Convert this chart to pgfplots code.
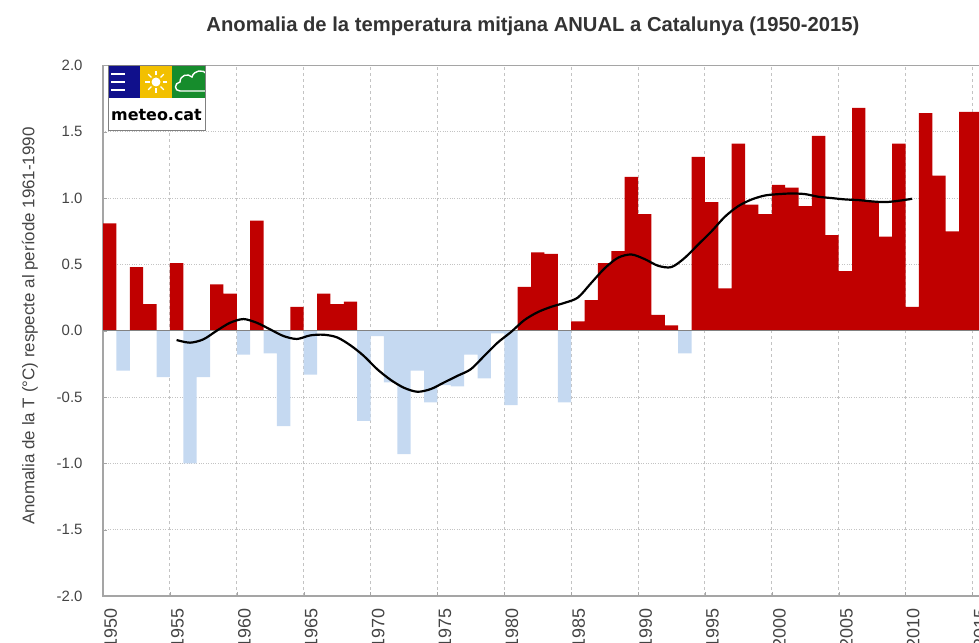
\documentclass[border=0pt]{standalone}
\usepackage{pgfplots}
\pgfplotsset{compat=1.18}
\usepackage{fontspec}
\setmainfont{Liberation Sans}
\newfontfamily\logofont{DejaVu Sans}
\definecolor{barred}{RGB}{192,0,0}
\definecolor{barblue}{RGB}{197,217,241}
\definecolor{txt}{RGB}{68,68,68}
\definecolor{ttl}{RGB}{51,51,51}
\definecolor{gridc}{RGB}{195,195,195}
\definecolor{axc}{RGB}{165,165,165}
\definecolor{zeroc}{RGB}{130,130,130}
\definecolor{logoblue}{RGB}{16,16,140}
\definecolor{logoyellow}{RGB}{242,192,0}
\definecolor{logogreen}{RGB}{22,140,44}
\begin{document}
\begin{tikzpicture}[x=1bp,y=1bp]
\begin{axis}[
  at={(103bp,47bp)}, anchor=south west,
  scale only axis, width=877.4bp, height=530.5bp,
  xmin=1949.5, xmax=2015.1, ymin=-2, ymax=2,
  axis line style={axc, line width=1.2bp},
  ytick={-2,-1.5,...,2},
  yticklabel style={font=\fontsize{15}{15}\selectfont, text=txt, xshift=-17bp,
    /pgf/number format/fixed, /pgf/number format/fixed zerofill,
    /pgf/number format/precision=1, /pgf/number format/assume math mode=true},
  xtick={1950,1955,...,2015},
  xticklabels={1950,1955,1960,1965,1970,1975,1980,1985,1990,1995,2000,2005,2010,2015},
  xticklabel style={rotate=90, anchor=east, font=\fontsize{18}{18}\selectfont, text=txt, xshift=-9bp, yshift=-1bp},
  minor xtick={1954.5,1959.5,...,2014.5},
  major x tick style={draw=none},
  minor x tick style={axc},
  ytick style={axc},
  major tick length=4bp, minor tick length=4bp,
  ytick pos=left, xtick pos=bottom,
  ymajorgrids, xminorgrids,
  major y grid style={dotted, gridc, line width=0.8bp},
  minor x grid style={dashed, gridc, line width=0.8bp},
]
\addplot[ybar, bar width=1, bar shift=0pt, fill=barred, draw=none] coordinates {
(1950,0.81) (1952,0.48) (1953,0.20) (1955,0.51) (1958,0.35) (1959,0.28)
(1961,0.83) (1964,0.18) (1966,0.28) (1967,0.20) (1968,0.22)
(1981,0.33) (1982,0.59) (1983,0.58) (1985,0.07) (1986,0.23) (1987,0.51)
(1988,0.60) (1989,1.16) (1990,0.88) (1991,0.12) (1992,0.04)
(1994,1.31) (1995,0.97) (1996,0.32) (1997,1.41) (1998,0.95) (1999,0.88)
(2000,1.10) (2001,1.08) (2002,0.94) (2003,1.47) (2004,0.72) (2005,0.45)
(2006,1.68) (2007,0.97) (2008,0.71) (2009,1.41) (2010,0.18) (2011,1.64)
(2012,1.17) (2013,0.75) (2014,1.65) (2015,1.65)
};
\addplot[ybar, bar width=1, bar shift=0pt, fill=barblue, draw=none] coordinates {
(1951,-0.30) (1954,-0.35) (1956,-1.00) (1957,-0.35) (1960,-0.18)
(1962,-0.17) (1963,-0.72) (1965,-0.33) (1969,-0.68) (1970,-0.04)
(1971,-0.39) (1972,-0.93) (1973,-0.30) (1974,-0.54) (1975,-0.41)
(1976,-0.42) (1977,-0.18) (1978,-0.36) (1979,-0.02) (1980,-0.56)
(1984,-0.54) (1993,-0.17)
};
\addplot[forget plot, zeroc, line width=1.2bp] coordinates {(1949.5,0) (2016,0)};
\addplot[black, line width=2.2bp, smooth] coordinates {
(1955,-0.07) (1956,-0.09) (1957,-0.065) (1958,0.00) (1959,0.06) (1960,0.088)
(1961,0.06) (1962,0.01) (1963,-0.04) (1964,-0.062) (1965,-0.035) (1966,-0.03)
(1967,-0.05) (1968,-0.11) (1969,-0.19) (1970,-0.29) (1971,-0.37) (1972,-0.43)
(1973,-0.46) (1974,-0.44) (1975,-0.39) (1976,-0.34) (1977,-0.29) (1978,-0.19)
(1979,-0.09) (1980,-0.01) (1981,0.08) (1982,0.14) (1983,0.18) (1984,0.21)
(1985,0.25) (1986,0.36) (1987,0.47) (1988,0.55) (1989,0.575) (1990,0.54)
(1991,0.49) (1992,0.48) (1993,0.55) (1994,0.65) (1995,0.75) (1996,0.86)
(1997,0.94) (1998,0.99) (1999,1.02) (2000,1.03) (2001,1.035) (2002,1.03)
(2003,1.01) (2004,1.00) (2005,0.99) (2006,0.985) (2007,0.975) (2008,0.97)
(2009,0.98) (2010,0.995)
};
\end{axis}
% title and y label
\node[font=\bfseries\fontsize{20.3}{20.3}\selectfont, text=ttl] at (533,617) {Anomalia de la temperatura mitjana ANUAL a Catalunya (1950-2015)};
\node[rotate=90, font=\fontsize{17}{17}\selectfont, text=txt] at (30,317) {Anomalia de la T (°C) respecte al període 1961-1990};
% logo
\fill[white] (108,512) rectangle (205,577);
\fill[logoblue] (108,545) rectangle (140,577);
\fill[logoyellow] (140,545) rectangle (172,577);
\fill[logogreen] (172,545) rectangle (205,577);
\fill[white] (111,567.5) rectangle (125,570);
\fill[white] (111,559.5) rectangle (125,562);
\fill[white] (111,551.5) rectangle (125,554);
\fill[white] (156,561) circle (4.5);
\foreach \a in {0,45,...,315} {\draw[white, line width=1.3bp] (156,561) ++(\a:6.5) -- ++(\a:4.5);}
\begin{scope}
\clip (172,545) rectangle (205,577);
\draw[white, line width=1.4bp] (205,552) -- (180,552) .. controls (174,552) and (174,560) .. (180,561)
  .. controls (180,568) and (188,570) .. (192,566) .. controls (194,573) and (203,574) .. (207,569);
\end{scope}
\draw[gray, line width=1bp] (108,512) rectangle (205,577);
\node[font=\logofont\bfseries\fontsize{16}{16}\selectfont] at (156.5,527.5) {meteo.cat};
\pgfresetboundingbox
\path[use as bounding box] (0,0) rectangle (979,643);
\end{tikzpicture}
\end{document}
